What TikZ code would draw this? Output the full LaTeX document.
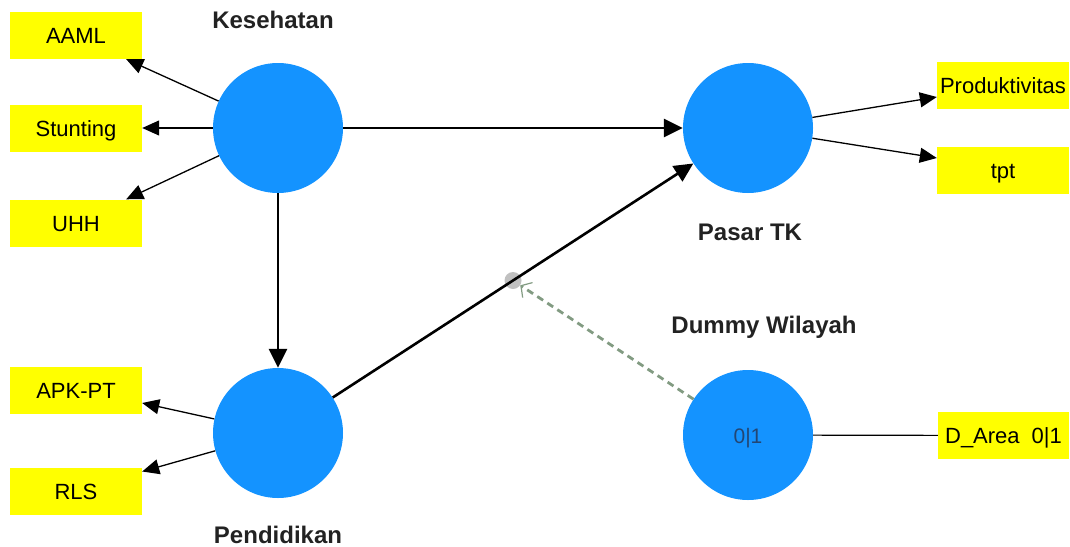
\documentclass[tikz,border=0pt]{standalone}
\usepackage{fontspec}
\setmainfont{Liberation Sans}
\usetikzlibrary{arrows.meta,calc}
\definecolor{lvblue}{RGB}{20,147,255}
\definecolor{boxyellow}{RGB}{255,255,0}
\definecolor{modgreen}{RGB}{130,155,130}
\definecolor{dotgray}{RGB}{192,192,192}
\definecolor{labelgray}{RGB}{34,34,34}
\definecolor{valblue}{RGB}{35,70,115}
\begin{document}
\begin{tikzpicture}[x=1pt,y=-1pt,
  latent/.style={circle,fill=lvblue,minimum size=130pt,inner sep=0pt},
  indic/.style={fill=boxyellow,minimum width=132pt,minimum height=47pt,inner sep=0pt,
    text height=16pt,text depth=0pt,font=\fontsize{22}{24}\selectfont},
  lvlabel/.style={anchor=base,inner sep=0pt,font=\fontsize{24}{26}\selectfont\bfseries,text=labelgray},
  thinarrow/.style={draw=black,line width=1.3pt,-{Triangle[length=17pt,width=15pt]}},
  thickarrow/.style={draw=black,line width=2.6pt,-{Triangle[length=19pt,width=18pt]}},
  modarrow/.style={draw=modgreen,line width=2.8pt,dash pattern=on 7pt off 5pt,
    -{Straight Barb[length=8pt,width=18pt,line width=1.2pt]}},
  ]
\useasboundingbox (0,0) rectangle (1070,546);

% latent variables
\node[latent] (ks) at (278,128) {};
\node[latent] (ptk) at (748,128) {};
\node[latent] (pd) at (278,433) {};
\node[latent,text height=16pt,text depth=0pt,font=\fontsize{21}{24}\selectfont] (dw) at (748,435) {\textcolor{valblue}{0|1}};

% labels
\node[lvlabel] (lks) at (273,28) {Kesehatan};
\node[lvlabel] (lptk) at (750,240) {Pasar TK};
\node[lvlabel] (lpd) at (278,543) {Pendidikan};
\node[lvlabel] (ldw) at (764,333) {Dummy Wilayah};

% indicators
\node[indic] (aaml) at (76,35.5) {AAML};
\node[indic] (stunt) at (76,128) {Stunting};
\node[indic] (uhh) at (76,223) {UHH};
\node[indic] (apk) at (76,390) {APK-PT};
\node[indic] (rls) at (76,491.5) {RLS};
\node[indic] (prod) at (1003,85.5) {Produktivitas};
\node[indic] (tpt) at (1003,170.5) {tpt};
\node[indic,minimum width=131pt] (darea) at (1003.5,435.5) {D\_Area\hspace{12pt}0|1};

% outer model arrows
\draw[thinarrow] (ks) -- ($(aaml.south east)+(-16,0)$);
\draw[thinarrow] (ks) -- (stunt.east);
\draw[thinarrow] (ks) -- ($(uhh.north east)+(-16,0)$);
\draw[thinarrow] (pd) -- ($(apk.east)+(0,13)$);
\draw[thinarrow] (pd) -- ($(rls.east)+(0,-20)$);
\draw[thinarrow] (ptk) -- ($(prod.west)+(0,11.5)$);
\draw[thinarrow] (ptk) -- ($(tpt.west)+(0,-12.5)$);
\draw[draw=black,line width=1.2pt] (dw) -- (darea);

% moderation point
\coordinate (m) at ($(pd)!0.5!(ptk)$);
\node[circle,fill=dotgray,minimum size=17pt,inner sep=0pt] (dot) at (m) {};

% inner model arrows
\draw[thickarrow] (ks) -- (ptk);
\draw[thickarrow] (ks) -- (pd);
\draw[thickarrow] (pd) -- (ptk);
\draw[modarrow] (dw) -- (dot);
\end{tikzpicture}
\end{document}
